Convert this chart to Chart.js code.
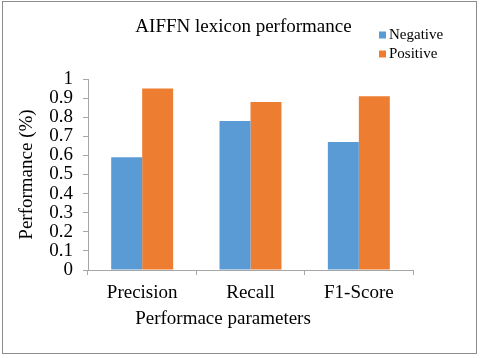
<!DOCTYPE html>
<html>
<head>
<meta charset="utf-8">
<script src="https://cdn.jsdelivr.net/npm/chart.js@4"></script>
<style>
  html, body { margin: 0; padding: 0; background: #fff; }
  #wrap { width: 480px; height: 358px; }
</style>
</head>
<body>
<div id="wrap"><canvas id="perfChart" width="480" height="358"></canvas></div>
<script>
const categories = ['Precision', 'Recall', 'F1-Score'];
const seriesNames = ['Negative', 'Positive'];
const negativeValues = [0.59, 0.78, 0.67];
const positiveValues = [0.95, 0.88, 0.91];
const yTickLabels = ['0', '0.1', '0.2', '0.3', '0.4', '0.5', '0.6', '0.7', '0.8', '0.9', '1'];

const SERIF = '"Liberation Serif", "Times New Roman", serif';
Chart.defaults.font.family = SERIF;
Chart.defaults.color = '#000';

// title, legend, x axis title and the frame round the picture
const decorations = {
    id: 'decorations',
    beforeDraw(chart) {
        const ctx = chart.ctx;
        ctx.save();
        ctx.fillStyle = '#fff';
        ctx.fillRect(0, 0, chart.width, chart.height);
        ctx.restore();
    },
    afterDraw(chart) {
        const ctx = chart.ctx;
        ctx.save();
        ctx.strokeStyle = '#8c8c8c';
        ctx.lineWidth = 1;
        ctx.strokeRect(2.5, 1.5, 474, 352);

        ctx.fillStyle = '#000';
        ctx.textBaseline = 'middle';
        ctx.textAlign = 'center';
        ctx.font = '19px ' + SERIF;
        ctx.fillText('AIFFN lexicon performance', 243.5, 27);
        ctx.fillText('Performace parameters', 223, 319.5);

        ctx.textAlign = 'left';
        ctx.font = '15px ' + SERIF;
        chart.data.datasets.forEach((ds, i) => {
            const y = 35 + i * 19;
            ctx.fillStyle = ds.backgroundColor;
            ctx.fillRect(379, y - 3.5, 7, 7);
            ctx.fillStyle = '#000';
            ctx.fillText(ds.label, 389, y);
        });
        ctx.restore();
    }
};

new Chart(document.getElementById('perfChart'), {
    type: 'bar',
    data: {
        labels: categories,
        datasets: [
            { label: seriesNames[0], data: negativeValues, backgroundColor: '#5b9bd5' },
            { label: seriesNames[1], data: positiveValues, backgroundColor: '#ed7d31' }
        ]
    },
    options: {
        responsive: false,
        animation: false,
        devicePixelRatio: 1,
        layout: { padding: { left: 0, right: 67, top: 79, bottom: 0 } },
        datasets: {
            bar: { categoryPercentage: 0.572, barPercentage: 1, borderWidth: 0 }
        },
        plugins: {
            legend: { display: false },
            title: { display: false },
            tooltip: { enabled: false }
        },
        scales: {
            x: {
                afterFit(scale) { scale.height = 88; },
                grid: { drawOnChartArea: false, tickLength: 5, color: '#a6a6a6' },
                border: { color: '#a6a6a6' },
                ticks: {
                    color: '#000',
                    padding: 7,
                    font: { family: SERIF, size: 19 }
                }
            },
            y: {
                min: 0,
                max: 1,
                afterFit(scale) { scale.width = 88; },
                grid: { drawOnChartArea: false, tickLength: 5, color: '#a6a6a6' },
                border: { color: '#a6a6a6' },
                ticks: {
                    stepSize: 0.1,
                    autoSkip: false,
                    color: '#000',
                    padding: 10,
                    font: { family: SERIF, size: 19, lineHeight: 1 },
                    callback: (v, i) => yTickLabels[i]
                },
                title: {
                    display: true,
                    text: 'Performance (%)',
                    color: '#000',
                    font: { family: SERIF, size: 19 },
                    padding: { top: 16, bottom: 0 }
                }
            }
        }
    },
    plugins: [decorations]
});
</script>
</body>
</html>
